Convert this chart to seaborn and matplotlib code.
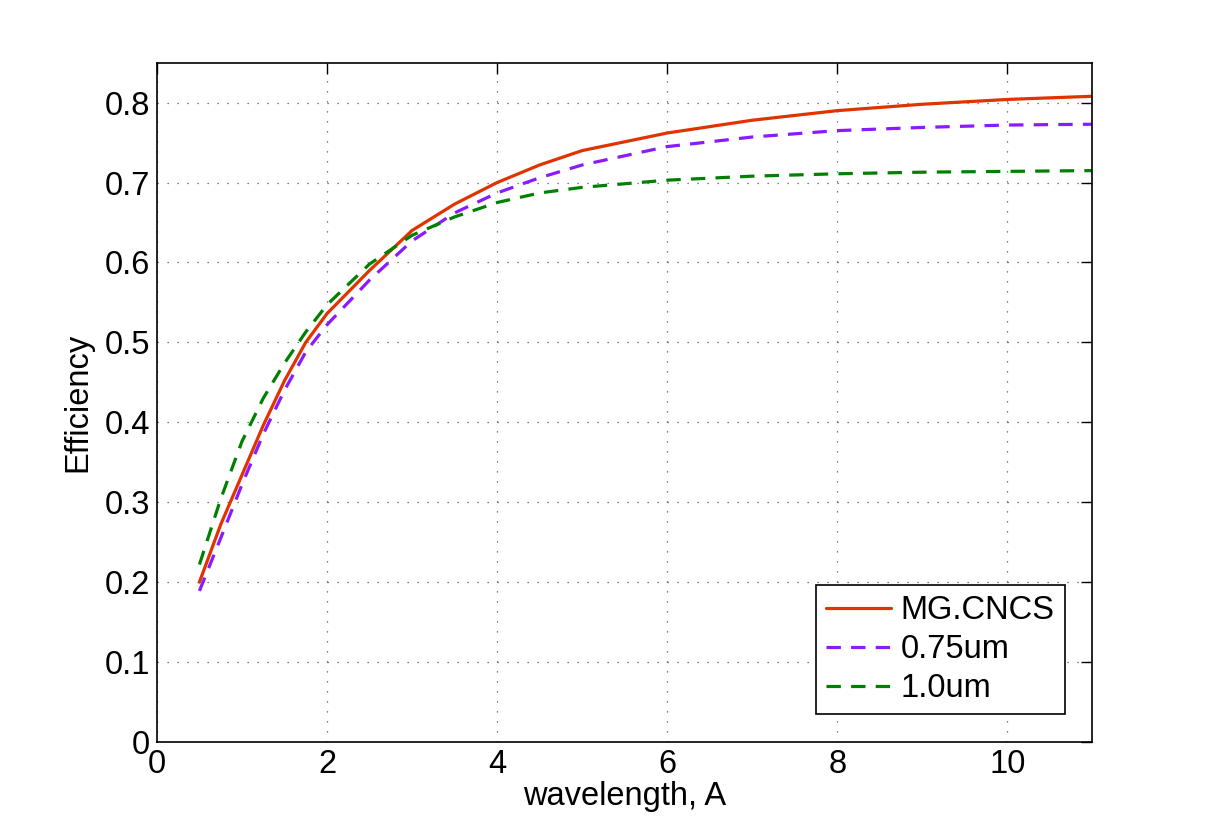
import pandas as pd
import matplotlib
matplotlib.use("Agg")
import matplotlib.pyplot as plt
import seaborn as sns

# wavelength grid (Angstrom) and efficiency curves
wavelength = [0.5, 0.75, 1.0, 1.25, 1.5, 1.75, 2.0, 2.5, 3.0, 3.5, 4.0, 4.5,
              5.0, 6.0, 7.0, 8.0, 9.0, 10.0, 11.0]
eff_mg_cncs = [0.200, 0.272, 0.334, 0.396, 0.452, 0.500, 0.536, 0.590, 0.640,
               0.673, 0.700, 0.722, 0.740, 0.762, 0.778, 0.790, 0.798, 0.804, 0.808]
eff_075um = [0.189, 0.255, 0.322, 0.385, 0.440, 0.488, 0.522, 0.578, 0.627,
             0.662, 0.687, 0.706, 0.722, 0.745, 0.757, 0.765, 0.769, 0.772, 0.773]
eff_10um = [0.222, 0.304, 0.376, 0.430, 0.474, 0.513, 0.547, 0.598, 0.634,
            0.657, 0.675, 0.687, 0.694, 0.703, 0.708, 0.711, 0.713, 0.714, 0.715]

labels = ["MG.CNCS", "0.75um", "1.0um"]
colors = ["#e03300", "#8a1aff", "#008000"]

sns.set_style("white")
plt.rcParams["font.family"] = ["Liberation Sans", "DejaVu Sans"]
plt.rcParams["text.color"] = "black"
plt.rcParams["axes.labelcolor"] = "black"

df = pd.DataFrame({
    "wavelength": wavelength * 3,
    "Efficiency": eff_mg_cncs + eff_075um + eff_10um,
    "series": [labels[0]] * len(wavelength) + [labels[1]] * len(wavelength)
              + [labels[2]] * len(wavelength),
})

fig = plt.figure(figsize=(12.07, 8.36), dpi=100)
ax = fig.add_axes([0.13, 0.1125, 0.775, 0.8125])

sns.lineplot(data=df, x="wavelength", y="Efficiency", hue="series",
             style="series", palette=dict(zip(labels, colors)),
             dashes={labels[0]: "", labels[1]: (4.5, 3.2), labels[2]: (4.5, 3.2)},
             linewidth=2.3, ax=ax, legend=True)

ax.set_xlim(0, 11)
ax.set_ylim(0, 0.85)
ax.set_xticks([0, 2, 4, 6, 8, 10])
ax.set_yticks([0, 0.1, 0.2, 0.3, 0.4, 0.5, 0.6, 0.7, 0.8])
ax.set_yticklabels(["0", "0.1", "0.2", "0.3", "0.4", "0.5", "0.6", "0.7", "0.8"])
ax.grid(True, linestyle=(0, (1, 7)), color="#555555", linewidth=0.9)
ax.tick_params(direction="in", length=8, width=1, top=True, right=True,
               labelsize=23.5, colors="black", pad=5)
for s in ax.spines.values():
    s.set_visible(True)
    s.set_color("black")
    s.set_linewidth(1.2)

ax.set_xlabel("wavelength, A", fontsize=23.5, labelpad=1, color="black")
ax.set_ylabel("Efficiency", fontsize=23.5, labelpad=8, color="black")

leg = ax.legend(loc="lower right", fontsize=23.5, frameon=True, fancybox=False,
                edgecolor="black", framealpha=1, borderaxespad=0.85,
                handlelength=2.0, handletextpad=0.3, labelspacing=0.25,
                borderpad=0.3)
leg.get_frame().set_linewidth(1.2)
for t in leg.get_texts():
    t.set_color("black")

fig.savefig("out.png", dpi=100)
